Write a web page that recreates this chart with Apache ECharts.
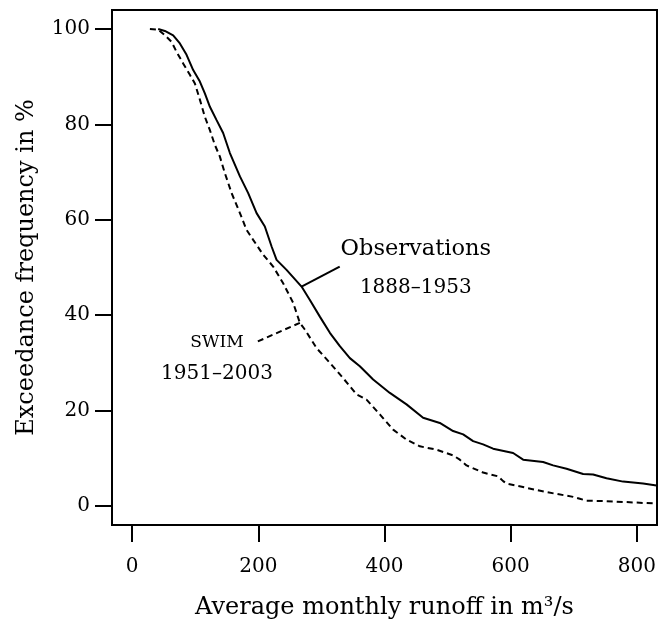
<!DOCTYPE html>
<html>
<head>
<meta charset="utf-8">
<script src="https://cdn.jsdelivr.net/npm/echarts@6/dist/echarts.min.js"></script>
<style>html,body{margin:0;padding:0;background:#fff;}#c{width:659px;height:630px;}</style>
</head>
<body>
<div id="c"></div>
<script>
// Observations 1888–1953
const obsRunoff = [41.2, 51.8, 65.0, 75.6, 86.2, 96.7, 107.3, 115.2, 123.2, 133.8, 144.2, 154.9, 170.8, 183.9, 197.2, 210.3, 221.0, 228.9, 244.7, 268.5, 281.7, 297.5, 313.4, 329.2, 345.1, 360.9, 382.0, 408.5, 434.9, 461.2, 487.7, 508.8, 524.7, 540.5, 556.3, 572.2, 603.9, 619.8, 651.5, 667.3, 688.6, 714.9, 730.7, 752.0, 778.3, 810.0, 831.2];
const obsFreq   = [100.0, 99.6, 98.7, 97.0, 94.6, 91.4, 89.0, 86.5, 83.7, 80.9, 78.2, 74.0, 69.1, 65.6, 61.4, 58.6, 54.4, 51.6, 49.5, 46.0, 43.2, 39.7, 36.3, 33.5, 31.0, 29.3, 26.5, 23.7, 21.3, 18.5, 17.4, 15.7, 15.0, 13.6, 12.9, 12.0, 11.1, 9.7, 9.2, 8.5, 7.8, 6.7, 6.6, 5.8, 5.1, 4.7, 4.3];
// SWIM 1951–2003
const swimRunoff = [28.1, 41.2, 51.8, 62.5, 70.4, 80.8, 91.5, 99.4, 107.3, 115.2, 123.2, 131.1, 138.9, 146.9, 157.6, 170.8, 181.3, 191.8, 207.6, 223.5, 239.3, 255.2, 265.8, 273.7, 292.3, 313.4, 334.4, 355.7, 371.5, 392.6, 413.7, 434.9, 456.0, 482.5, 508.8, 519.4, 530.0, 556.3, 580.1, 588.1, 593.4, 625.1, 656.8, 699.0, 709.6, 720.2, 752.0, 783.7, 831.2];
const swimFreq   = [100.0, 99.9, 98.7, 97.3, 95.2, 92.8, 90.4, 88.6, 85.2, 81.6, 78.8, 75.7, 73.3, 69.8, 65.6, 61.4, 57.9, 55.8, 52.7, 50.2, 46.7, 42.6, 38.4, 37.0, 33.1, 30.0, 26.8, 23.4, 22.3, 19.2, 16.0, 13.9, 12.5, 11.8, 10.6, 9.7, 8.5, 7.0, 6.2, 5.2, 4.7, 3.8, 2.9, 1.9, 1.5, 1.1, 1.0, 0.8, 0.5];

const xTicks = [0, 200, 400, 600, 800];
const yTicks = [0, 20, 40, 60, 80, 100];
const xTitle = 'Average monthly runoff in m³/s';
const yTitle = 'Exceedance frequency in %';

const obsLabel = ['Observations', '1888–1953'];
const swimLabel = ['SWIM', '1951–2003'];

const FONT = 'DejaVu Serif';
const zip = (a, b) => a.map((v, i) => [v, b[i]]);

const chart = echarts.init(document.getElementById('c'), null, {renderer: 'canvas'});
const lbl = (text, size) => ({show: true, formatter: text, position: 'inside', align: 'center', verticalAlign: 'middle',
  color: '#000', fontFamily: FONT, fontSize: size, textBorderWidth: 0, textBorderColor: 'transparent', textShadowBlur: 0});

chart.setOption({
  animation: false,
  backgroundColor: '#fff',
  grid: {left: 112, right: 2, top: 10, bottom: 105, show: true, borderColor: '#000', borderWidth: 2, backgroundColor: 'transparent'},
  xAxis: {
    type: 'value', min: -32, max: 832,
    splitLine: {show: false},
    axisLine: {show: false, onZero: false},
    axisTick: {show: true, customValues: xTicks, length: 17, inside: false, lineStyle: {color: '#000', width: 2}},
    axisLabel: {customValues: xTicks, margin: 32, color: '#000', fontFamily: FONT, fontSize: 20},
    name: xTitle, nameLocation: 'middle', nameGap: 71,
    nameTextStyle: {color: '#000', fontFamily: FONT, fontSize: 24}
  },
  yAxis: {
    type: 'value', min: -4, max: 104,
    splitLine: {show: false},
    axisLine: {show: false, onZero: false},
    axisTick: {show: true, customValues: yTicks, length: 17, inside: false, lineStyle: {color: '#000', width: 2}},
    axisLabel: {customValues: yTicks, margin: 22, color: '#000', fontFamily: FONT, fontSize: 20},
    name: yTitle, nameLocation: 'middle', nameGap: 73, nameRotate: 90,
    nameTextStyle: {color: '#000', fontFamily: FONT, fontSize: 24}
  },
  series: [
    {type: 'line', data: zip(obsRunoff, obsFreq), showSymbol: false, symbol: 'none',
     lineStyle: {color: '#000', width: 2, type: 'solid'}, z: 3},
    {type: 'line', data: zip(swimRunoff, swimFreq), showSymbol: false, symbol: 'none',
     lineStyle: {color: '#000', width: 2, type: [6, 4]}, z: 3},
    // leader lines
    {type: 'line', data: [[268.5, 46.0], [329, 50.2]], showSymbol: false, symbol: 'none',
     lineStyle: {color: '#000', width: 2, type: 'solid'}},
    {type: 'line', data: [[199.2, 34.5], [265.8, 38.4]], showSymbol: false, symbol: 'none',
     lineStyle: {color: '#000', width: 2, type: [6, 4]}},
    // annotation text
    {type: 'scatter', symbolSize: 0, silent: true, itemStyle: {color: '#000', opacity: 1},
     emphasis: {disabled: true},
     data: [
       {value: [449.6, 53.9], label: lbl(obsLabel[0], 22.5)},
       {value: [449.6, 45.8], label: lbl(obsLabel[1], 20)},
       {value: [134.4, 34.2], label: lbl(swimLabel[0], 17)},
       {value: [134.4, 27.7], label: lbl(swimLabel[1], 20)}
     ],
     label: {show: true}
    }
  ]
});
</script>
</body>
</html>
